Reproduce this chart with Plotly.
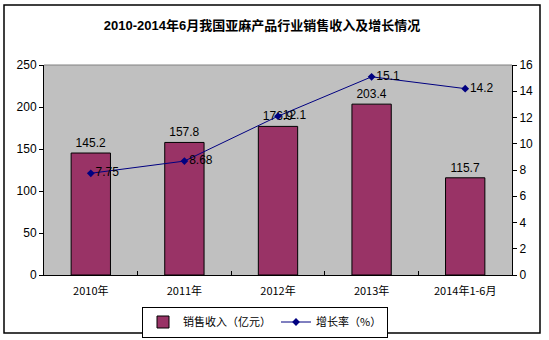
import plotly.graph_objects as go

categories = ["2010年", "2011年", "2012年", "2013年", "2014年1-6月"]
revenue = [145.2, 157.8, 176.9, 203.4, 115.7]
growth = [7.75, 8.68, 12.1, 15.1, 14.2]
revenue_name = "销售收入（亿元）"
growth_name = "增长率（%）"
title = "2010-2014年6月我国亚麻产品行业销售收入及增长情况"

fig = go.Figure()
fig.add_trace(go.Bar(
    x=categories, y=revenue, name=revenue_name,
    marker=dict(color="#993366", line=dict(color="black", width=1)),
    width=0.42,
    text=[f"{v}" for v in revenue], textposition="outside",
    textfont=dict(family="Arial", size=12, color="black"),
    cliponaxis=False,
))
fig.add_trace(go.Scatter(
    x=categories, y=growth, name=growth_name, yaxis="y2",
    mode="lines+markers+text",
    line=dict(color="#000080", width=1),
    marker=dict(symbol="diamond", size=6, color="#000080"),
    text=[f"{v}" for v in growth], textposition="middle right",
    textfont=dict(family="Arial", size=12, color="black"),
    cliponaxis=False,
))

L, R, T, B = 44, 512, 65, 275
pw, ph = R - L, B - T
def px(x): return (x - L) / pw
def py(y): return (B - y) / ph

fig.update_layout(
    width=549, height=340,
    margin=dict(l=L, r=549 - R, t=T, b=340 - B, autoexpand=False),
    paper_bgcolor="white", plot_bgcolor="#C0C0C0",
    title=dict(text=f"<b>{title}</b>", x=262 / 549, xref="container", xanchor="center",
               y=1 - 25 / 340, yref="container", yanchor="middle",
               font=dict(family="Arial, Noto Sans CJK SC", size=13, color="black")),
    bargap=0.58,
    showlegend=True,
    legend=dict(orientation="h", x=px(265), xanchor="center", y=py(322), yanchor="middle",
                bordercolor="black", borderwidth=1, bgcolor="white",
                font=dict(family="Noto Sans CJK SC", size=11, color="black"),
                itemwidth=30, tracegroupgap=0),
    xaxis=dict(showgrid=False, showline=True, linecolor="black", linewidth=1,
               ticks="inside", tickson="boundaries", ticklen=4, tickcolor="black",
               ticklabelstandoff=6,
               tickfont=dict(family="Noto Sans CJK SC", size=11, color="black")),
    yaxis=dict(range=[0, 250], dtick=50, showgrid=False, showline=True, linecolor="black",
               ticks="outside", ticklen=4, tickcolor="black", zeroline=False,
               tickfont=dict(family="Arial", size=12, color="black")),
    yaxis2=dict(range=[0, 16], dtick=2, overlaying="y", side="right", showgrid=False,
                showline=True, linecolor="black", ticks="outside", ticklen=4,
                tickcolor="black", zeroline=False,
                tickfont=dict(family="Arial", size=12, color="black")),
    shapes=[
        dict(type="rect", xref="paper", yref="paper", x0=px(4), x1=px(540), y0=py(333), y1=py(5),
             line=dict(color="black", width=1.5), layer="below"),
        dict(type="line", xref="paper", yref="paper", x0=0, x1=1, y0=1, y1=1,
             line=dict(color="#808080", width=1)),
    ],
)
fig.write_html("out.html")
